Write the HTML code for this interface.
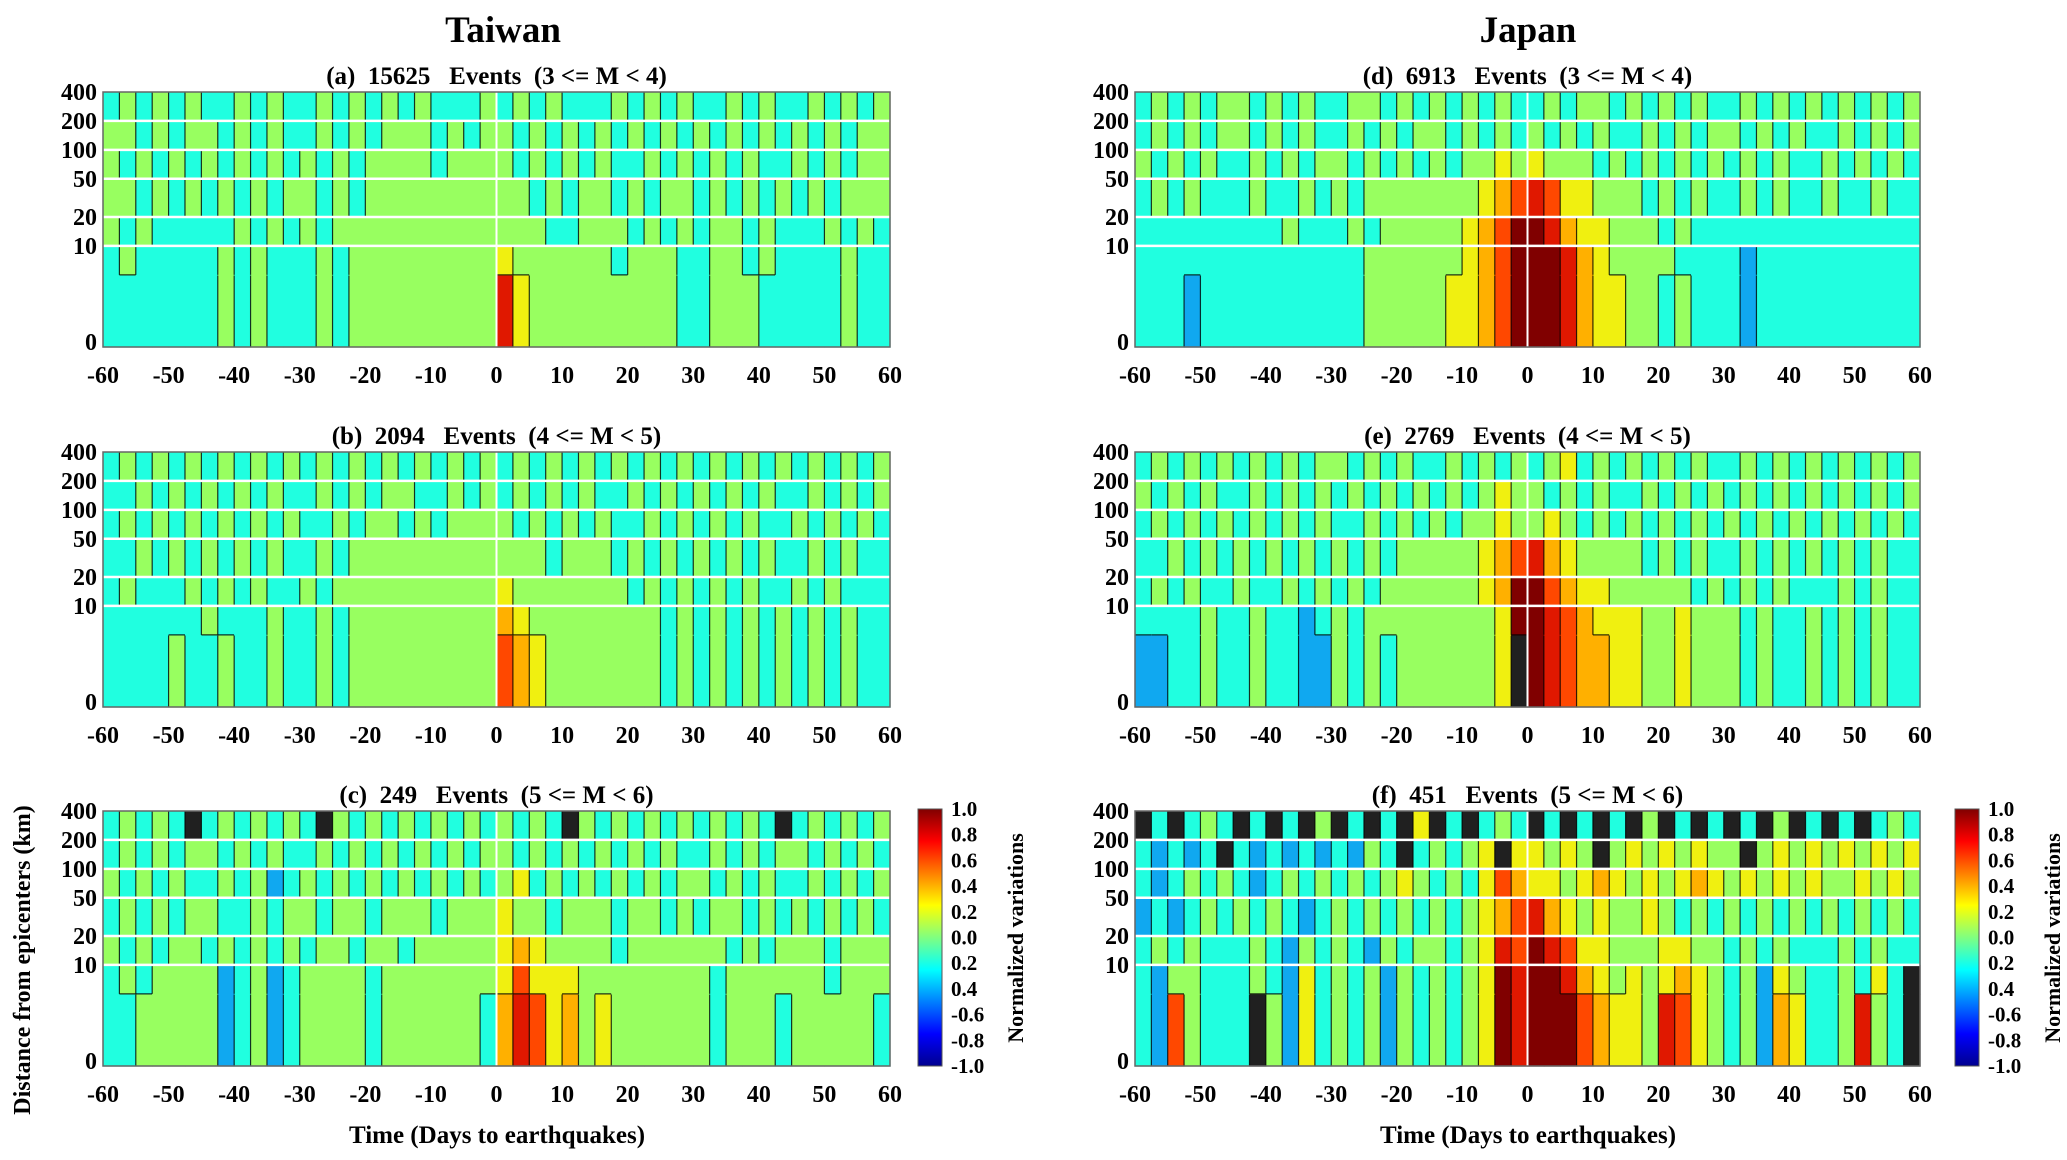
<!DOCTYPE html>
<html><head><meta charset="utf-8">
<style>
html,body{margin:0;padding:0;background:#fff;}
svg{display:block;font-family:"Liberation Serif",serif;font-weight:bold;}
text{white-space:pre;}
</style></head>
<body>
<svg id="fig" width="2067" height="1160" viewBox="0 0 2067 1160" xmlns="http://www.w3.org/2000/svg">
<defs>
<linearGradient id="jet" x1="0" y1="1" x2="0" y2="0">
<stop offset="0" stop-color="#00008f"/><stop offset="0.125" stop-color="#0000ff"/>
<stop offset="0.375" stop-color="#00ffff"/><stop offset="0.5" stop-color="#80ff80"/>
<stop offset="0.625" stop-color="#ffff00"/><stop offset="0.875" stop-color="#ff0000"/>
<stop offset="1" stop-color="#800000"/></linearGradient>
</defs>
<text x="503" y="42" font-size="37" text-anchor="middle">Taiwan</text>
<text x="1528" y="42" font-size="37" text-anchor="middle">Japan</text>
<text transform="translate(30,960) rotate(-90)" font-size="24" text-anchor="middle">Distance from epicenters (km)</text>
<text x="497" y="1143" font-size="25" text-anchor="middle">Time (Days to earthquakes)</text>
<text x="1528" y="1143" font-size="25" text-anchor="middle">Time (Days to earthquakes)</text>
<g id="panels"></g>
</svg>
<script>
// ---- data ----
const xTicks = [-60,-50,-40,-30,-20,-10,0,10,20,30,40,50,60];
const yTickValues = [400,200,100,50,20,10,1];
const yTickLabels = ['400','200','100','50','20','10','0'];
const bandBounds = [1,5,10,20,50,100,200,400];
const cbLabels = ['1.0','0.8','0.6','0.4','0.2','0.0','0.2','0.4','-0.6','-0.8','-1.0'];
const levelColors = ['#0000a0','#10a8f0','#20ffe0','#98ff60','#f0f010','#ffb000','#ff4800','#e01800','#800000','#202020'];
const titles = ['(a)  15625   Events  (3 <= M < 4)','(b)  2094   Events  (4 <= M < 5)','(c)  249   Events  (5 <= M < 6)',
                '(d)  6913   Events  (3 <= M < 4)','(e)  2769   Events  (4 <= M < 5)','(f)  451   Events  (5 <= M < 6)'];
// rows listed bottom (1-5 km) to top (200-400 km); 48 cells of 2.5 days each
const gridA = [
"222222 232322 232333 333333 743333 333332 233322 222322",
"232222 232322 232333 333333 433333 323332 233232 222322",
"323222 223232 323333 333333 333223 332323 233232 223232",
"332323 232323 323233 333333 332323 323233 232323 232333",
"323232 323232 323233 332333 323232 322323 232322 323233",
"332323 323232 232323 332323 323232 323232 323232 323233",
"232323 223232 232323 232223 232322 232323 223232 232323"];
const gridB = [
"222232 232232 232333 333333 654333 333323 232323 232322",
"222222 322232 232333 333333 543333 333323 232323 232322",
"232223 232322 323333 333333 433333 332323 232322 323222",
"223232 323232 232333 333333 333233 323232 323232 232322",
"232323 232323 223233 232333 323232 322323 232322 323232",
"223232 323232 232323 322323 232323 223232 323232 232323",
"232323 232323 232323 232323 232323 232323 232323 232323"];
const gridC = [
"223333 312312 333323 333332 576453 433333 323332 333332",
"232333 312312 333323 333333 464443 333333 323333 332333",
"323233 232323 233233 233333 454333 323333 332323 332333",
"232323 322323 323323 332333 433233 323323 233232 323232",
"323232 232312 323232 323232 342323 232323 323232 232323",
"232323 323232 232323 232323 323232 323232 232323 323232",
"232329 232323 293232 323232 323293 232323 232329 232323"];
const gridD = [
"222122 222222 223333 344568 887544 332322 212222 222222",
"222222 222222 223333 334568 887543 333222 212222 222222",
"222222 222322 232333 334568 875443 332322 222222 222222",
"232322 232232 323333 333456 764433 323232 232322 322322",
"323232 232323 323232 323343 433323 232323 232322 323232",
"232323 323232 232323 323232 323232 232323 323232 232323",
"232323 323232 233232 323232 232332 323232 232323 232323"];
const gridE = [
"112232 232211 323233 333349 876554 433433 323223 232322",
"222232 232212 323333 333348 876544 433433 323223 232322",
"232322 322323 232333 333458 865443 333323 232322 232322",
"223232 323232 323233 333456 754333 323232 232323 232322",
"232323 232323 223232 323343 343232 323232 323232 323232",
"323232 232323 232323 232343 323232 232323 232323 232323",
"232323 232323 323232 232323 234232 323232 232323 232323"];
const gridF = [
"216322 293142 323132 323487 888654 437643 231542 237329",
"213322 232142 323132 323487 887543 434543 231432 232429",
"232322 232132 321323 323476 876443 334433 232322 232322",
"121232 323212 323232 323456 754343 343232 323232 323232",
"212323 212323 232343 232465 443454 343454 343434 334343",
"212129 212121 213292 323494 434393 434343 393434 343434",
"929232 929293 929294 929232 929292 939292 929392 929232"];

// ---- layout (not data) ----
const panelBoxes = [
 {grid:gridA,left:103,top:92,w:787,h:255,cb:null},
 {grid:gridB,left:103,top:452,w:787,h:255,cb:null},
 {grid:gridC,left:103,top:811,w:787,h:255,cb:918},
 {grid:gridD,left:1135,top:92,w:785,h:255,cb:null},
 {grid:gridE,left:1135,top:452,w:785,h:255,cb:null},
 {grid:gridF,left:1135,top:811,w:785,h:255,cb:1955}];
const NS='http://www.w3.org/2000/svg';
const root=document.getElementById('panels');
function mk(tag,attrs,parent){const e=document.createElementNS(NS,tag);for(const k in attrs)e.setAttribute(k,attrs[k]);(parent||root).appendChild(e);return e;}

panelBoxes.forEach((p,pi)=>{
  const g=mk('g',{});
  
  
  const xs=d=>p.left+(d+60)/120*p.w;
  const ys=d=>p.top+(p.h-5)*(1-Math.log10(d)/Math.log10(400));
  const rows=p.grid.map(r=>r.replace(/ /g,''));
  const nC=rows[0].length, dd=120/nC;
  rows.forEach((row,ri)=>{
    const y0=ri===0?p.top+p.h:ys(bandBounds[ri]);
    const y1=ys(bandBounds[ri+1]);
    for(let c=0;c<nC;c++){
      const v=+row[c];
      const x0=xs(-60+c*dd), x1=xs(-60+(c+1)*dd);
      const r=mk('rect',{x:x0.toFixed(2),y:y1.toFixed(2),width:(x1-x0+0.6).toFixed(2),height:(y0-y1+0.6).toFixed(2),fill:levelColors[v]},g);
      
      
      if(c>0 && row[c-1]!==row[c]){
        const l=mk('line',{x1:x0,x2:x0,y1:y1,y2:y0,stroke:'#000','stroke-width':1.2,'stroke-opacity':0.8},g);
        
        
      }
      if(ri>0 && rows[ri-1][c]!==row[c]){
        const l=mk('line',{x1:x0,x2:x1,y1:y0,y2:y0,stroke:'#000','stroke-width':1.2,'stroke-opacity':0.8},g);
        
        
      }
    }
  });
  yTickValues.slice(1,6).forEach(v=>{
    const l=mk('line',{x1:p.left,x2:p.left+p.w,y1:ys(v),y2:ys(v),stroke:'#fff','stroke-width':2.5},g);
    
    
  });
  const vl=mk('line',{x1:xs(0),x2:xs(0),y1:p.top,y2:p.top+p.h,stroke:'#fff','stroke-width':2},g);
  
  
  const fr=mk('rect',{x:p.left,y:p.top,width:p.w,height:p.h,fill:'none',stroke:'#666','stroke-width':1.5},g);
  
  
  yTickValues.forEach((v,i)=>{
    const t=mk('text',{x:p.left-6,y:ys(v)+8,'font-size':24,'text-anchor':'end'},g);
    t.textContent=yTickLabels[i];
    
    
  });
  xTicks.forEach(v=>{
    const t=mk('text',{x:xs(v),y:p.top+p.h+36,'font-size':24,'text-anchor':'middle'},g);
    t.textContent=String(v);
    
    
  });
  const tt=mk('text',{x:p.left+p.w/2,y:p.top-8,'font-size':25,'text-anchor':'middle'},g);
  tt.textContent=titles[pi];
  
  
  if(p.cb){
    const cy0=809, cy1=1066;
    const cb=mk('rect',{x:p.cb,y:cy0,width:24,height:cy1-cy0,fill:'url(#jet)',stroke:'#555','stroke-width':1},g);
    
    
    cbLabels.forEach((s,i)=>{
      const t=mk('text',{x:p.cb+33,y:cy0+i*(cy1-cy0)/(cbLabels.length-1)+7,'font-size':21},g);
      t.textContent=s;
      
      
    });
    const ct=mk('text',{transform:'translate('+(p.cb+105)+',938) rotate(-90)','font-size':22,'text-anchor':'middle'},g);
    ct.textContent='Normalized variations';
    
    
  }
});
</script>
</body></html>
